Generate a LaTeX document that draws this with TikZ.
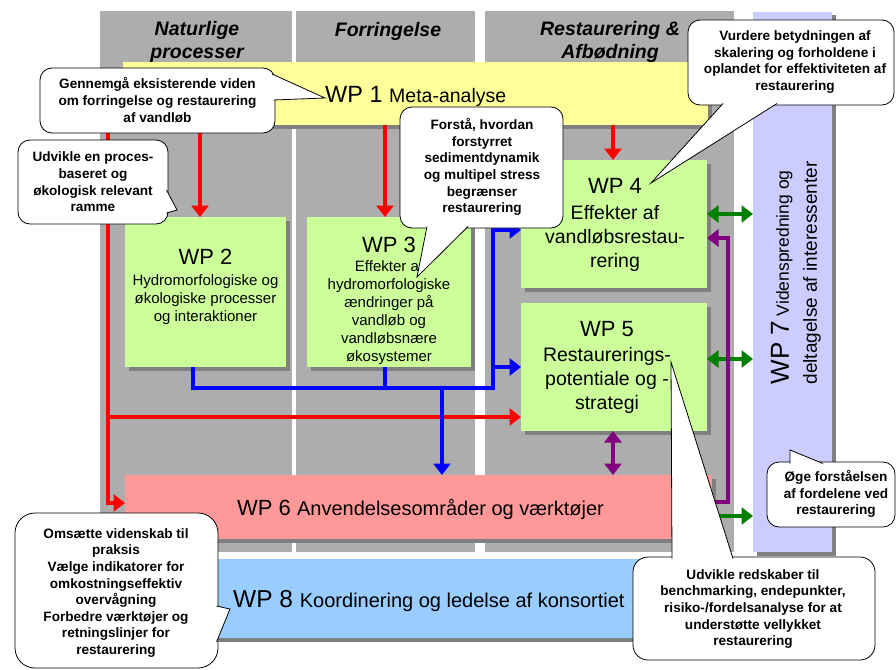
\documentclass[tikz,border=0pt]{standalone}
\usepackage{fontspec}
\setmainfont{Liberation Sans}
\usetikzlibrary{arrows.meta,calc}
\definecolor{colgray}{RGB}{173,173,173}
\definecolor{shadowgray}{RGB}{128,128,128}
\definecolor{wpgreen}{RGB}{204,255,153}
\definecolor{wpyellow}{RGB}{255,255,153}
\definecolor{wppink}{RGB}{255,153,153}
\definecolor{wpblue}{RGB}{153,204,255}
\definecolor{wplav}{RGB}{204,204,255}
\definecolor{agreen}{RGB}{0,128,0}
\definecolor{apurple}{RGB}{128,0,128}
\tikzset{
  Big/.tip={Triangle[width=17pt,length=11.5pt]},
  colbg/.style={rectangle,fill=colgray,draw=none,inner sep=0pt,outer sep=0pt},
  wpbox/.style={rectangle,draw=none,inner sep=0pt,outer sep=0pt,
    preaction={fill=shadowgray,transform canvas={xshift=3.5pt,yshift=-3.5pt}}},
  wptitle/.style={inner sep=0pt,font=\fontsize{22}{24}\selectfont},
  wpbody/.style={inner sep=0pt,align=center},
  heading/.style={inner sep=0pt,align=center,font=\bfseries\itshape\fontsize{19.5}{23}\selectfont},
  callbox/.style={rectangle,draw=black,line width=0.8pt,fill=white,rounded corners=12pt,inner sep=0pt,outer sep=0pt},
  callptr/.style={draw=black,line width=0.8pt,fill=white,line join=miter},
  calltext/.style={inner sep=0pt,align=center,font=\bfseries\fontsize{13.6}{16.6}\selectfont},
  conn/.style={line width=3.2pt},
  rarr/.style={conn,draw=red,-Big},
  barr/.style={conn,draw=blue,-Big},
  bline/.style={conn,draw=blue},
  garr/.style={conn,draw=agreen,-Big},
  gdarr/.style={conn,draw=agreen,Big-Big},
  parr/.style={conn,draw=apurple,-Big},
  pdarr/.style={conn,draw=apurple,Big-Big},
}
\begin{document}
\begin{tikzpicture}[x=1pt,y=-1pt]
\useasboundingbox (0,0) rectangle (896,669);
\fill[white] (0,0) rectangle (896,669);

% columns
\node[colbg,minimum width=192pt,minimum height=541pt] (col1) at (196,281.5) {};
\node[colbg,minimum width=179pt,minimum height=541pt] (col2) at (385.5,281.5) {};
\node[colbg,minimum width=249pt,minimum height=541pt] (col3) at (609.5,281.5) {};

% headings
\node[heading] (h1) at (197,42) {Naturlige\\processer};
\node[heading] (h2) at (388,31) {Forringelse};
\node[heading] (h3) at (610,41.5) {Restaurering \&\\Afbødning};

% WP7 column
\node[wpbox,fill=wplav,minimum width=79pt,minimum height=540pt] (wp7) at (792.5,282) {};
\node[rotate=90,align=left,inner sep=0pt,font=\fontsize{19}{28}\selectfont] (wp7t) at (796,273)
  {{\fontsize{26}{28}\selectfont WP 7}{\fontsize{17.5}{28}\selectfont\ Videnspredning og}\\deltagelse af interessenter};

% WP boxes
\node[wpbox,fill=wpyellow,minimum width=585pt,minimum height=63pt] (wp1) at (415.5,93.5) {};
\node[wpbox,fill=wpgreen,minimum width=161pt,minimum height=150pt] (wp2) at (205.5,292) {};
\node[wpbox,fill=wpgreen,minimum width=164pt,minimum height=150pt] (wp3) at (389,292) {};
\node[wpbox,fill=wpgreen,minimum width=186pt,minimum height=128pt] (wp4) at (614,224) {};
\node[wpbox,fill=wpgreen,minimum width=186pt,minimum height=128pt] (wp5) at (614,367) {};
\node[wpbox,fill=wppink,minimum width=587pt,minimum height=64pt] (wp6) at (418.5,507) {};
\node[wpbox,fill=wpblue,minimum width=587pt,minimum height=79pt] (wp8) at (418.5,598.5) {};

% WP texts
\node[inner sep=0pt,anchor=base west] (wp1t) at (325,102)
  {{\fontsize{23.5}{24}\selectfont WP 1\ }{\fontsize{19.5}{24}\selectfont Meta-analyse}};
\node[wptitle] (wp2t) at (205.5,257) {WP 2};
\node[wpbody,font=\fontsize{15}{18}\selectfont] (wp2b) at (205.5,300)
  {Hydromorfologiske og\\økologiske processer\\og interaktioner};
\node[wptitle] (wp3t) at (389,245) {WP 3};
\node[wpbody,font=\fontsize{15}{18}\selectfont] (wp3b) at (389,313)
  {Effekter af\\hydromorfologiske\\ændringer på\\vandløb og\\vandløbsnære\\økosystemer};
\node[wptitle] (wp4t) at (615,185.5) {WP 4};
\node[wpbody,font=\fontsize{19.5}{24}\selectfont] (wp4b) at (615,238)
  {Effekter af\\vandløbsrestau-\\rering};
\node[wptitle] (wp5t) at (607,329.5) {WP 5};
\node[wpbody,font=\fontsize{19.5}{24}\selectfont] (wp5b) at (607,380)
  {Restaurerings-\\potentiale og -\\strategi};
\node[inner sep=0pt,anchor=base west] (wp6t) at (237,515)
  {{\fontsize{22}{24}\selectfont WP 6\ }{\fontsize{20}{24}\selectfont Anvendelsesområder og værktøjer}};
\node[inner sep=0pt,anchor=base west] (wp8t) at (233,607)
  {{\fontsize{24.5}{26}\selectfont WP 8\ }{\fontsize{20}{24}\selectfont Koordinering og ledelse af konsortiet}};

% routing coordinates
\coordinate (xr2) at (200,0);
\coordinate (xr3) at (385,0);
\coordinate (xr4) at (613,0);
\coordinate (xrl) at (108,0);
\coordinate (yr6) at (0,503);
\coordinate (yr5) at (0,417);
\coordinate (xb2) at (193,0);
\coordinate (yb) at (0,388);
\coordinate (xbv) at (493,0);
\coordinate (yb4) at (0,230);
\coordinate (xb6) at (442,0);
\coordinate (yg1) at (0,214);
\coordinate (yg2) at (0,359);
\coordinate (yg3) at (0,516);
\coordinate (yp1) at (0,502);
\coordinate (xpv) at (728,0);
\coordinate (yp2) at (0,238);

% red connectors
\draw[rarr] (wp1.south -| xr2) -- (wp2.north -| xr2);
\draw[rarr] (wp1.south -| xr3) -- (wp3.north -| xr3);
\draw[rarr] (wp1.south -| xr4) -- (wp4.north -| xr4);
\draw[rarr] (wp1.west) -| (xrl |- yr6) -- (wp6.west |- yr6);
\draw[rarr] (xrl |- yr5) -- (wp5.west |- yr5);

% blue connectors
\draw[barr] (wp2.south -| xb2) |- (xbv |- yb) -- (xbv |- yb4) -- (wp4.west |- yb4);
\draw[barr] (xbv |- wp5.west) -- (wp5.west);
\draw[bline] (wp3.south -| xr3) -- (xr3 |- yb);
\draw[barr] (xb6 |- yb) -- (wp6.north -| xb6);

% green connectors
\draw[gdarr] (wp4.east |- yg1) -- (wp7.west |- yg1);
\draw[gdarr] (wp5.east |- yg2) -- (wp7.west |- yg2);
\draw[garr] (wp6.east |- yg3) -- (wp7.west |- yg3);

% purple connectors
\draw[pdarr] (wp5.south -| xr4) -- (wp6.north -| xr4);
\draw[parr] (wp6.east |- yp1) -| (xpv |- yp2) -- (wp4.east |- yp2);

% callout 1
\node[callbox,minimum width=235pt,minimum height=65pt] (c1) at (157.5,100.5) {};
\coordinate (c1a) at (272,74);
\coordinate (c1t) at (325,98);
\coordinate (c1b) at (273.5,100);
\filldraw[callptr] (c1a) -- (c1t) -- (c1b);
\node[calltext] (c1x) at (157.5,100) {Gennemgå eksisterende viden\\om forringelse og restaurering\\af vandløb};

% callout 2
\node[callbox,minimum width=150pt,minimum height=84pt] (c2) at (93,182) {};
\coordinate (c2a) at (166.5,190);
\coordinate (c2t) at (177,210);
\coordinate (c2b) at (166.5,213);
\filldraw[callptr] (c2a) -- (c2t) -- (c2b);
\node[calltext] (c2x) at (93,182) {Udvikle en proces-\\baseret og\\økologisk relevant\\ramme};

% callout 3
\node[callbox,minimum width=163pt,minimum height=121pt] (c3) at (481.5,167.5) {};
\coordinate (c3a) at (427,226.5);
\coordinate (c3t) at (417,277);
\coordinate (c3b) at (468,226.5);
\filldraw[callptr] (c3a) -- (c3t) -- (c3b);
\node[calltext] (c3x) at (482,167) {Forstå, hvordan\\forstyrret\\sedimentdynamik\\og multipel stress\\begrænser\\restaurering};

% callout 4
\node[callbox,minimum width=206pt,minimum height=85pt] (c4) at (791,62.5) {};
\coordinate (c4a) at (723,103.5);
\coordinate (c4t) at (651,183);
\coordinate (c4b) at (777,103.5);
\filldraw[callptr] (c4a) -- (c4t) -- (c4b);
\node[calltext] (c4x) at (795,62) {Vurdere betydningen af\\skalering og forholdene i\\oplandet for effektiviteten af\\restaurering};

% callout 5
\node[callbox,minimum width=128pt,minimum height=65pt] (c5) at (831,494.5) {};
\coordinate (c5a) at (790,463.5);
\coordinate (c5t) at (790,450);
\coordinate (c5b) at (823,463.5);
\filldraw[callptr] (c5a) -- (c5t) -- (c5b);
\node[calltext] (c5x) at (836,494) {Øge forståelsen\\af fordelene ved\\restaurering};

% callout 6
\node[callbox,rounded corners=20pt,minimum width=203pt,minimum height=155pt] (c6) at (116.5,590.5) {};
\coordinate (c6a) at (216.5,606);
\coordinate (c6t) at (230,609);
\coordinate (c6b) at (216.5,642);
\filldraw[callptr] (c6a) -- (c6t) -- (c6b);
\node[calltext] (c6x) at (116,593) {Omsætte videnskab til\\praksis\\Vælge indikatorer for\\omkostningseffektiv\\overvågning\\Forbedre værktøjer og\\retningslinjer for\\restaurering};

% callout 7
\node[callbox,rounded corners=15pt,minimum width=242pt,minimum height=103pt] (c7) at (754,608.5) {};
\coordinate (c7a) at (672,558.5);
\coordinate (c7t) at (671,362);
\coordinate (c7b) at (733,558.5);
\filldraw[callptr] (c7a) -- (c7t) -- (c7b);
\node[calltext] (c7x) at (753,609) {Udvikle redskaber til\\benchmarking, endepunkter,\\risiko-/fordelsanalyse for at\\understøtte vellykket\\restaurering};
\end{tikzpicture}
\end{document}
